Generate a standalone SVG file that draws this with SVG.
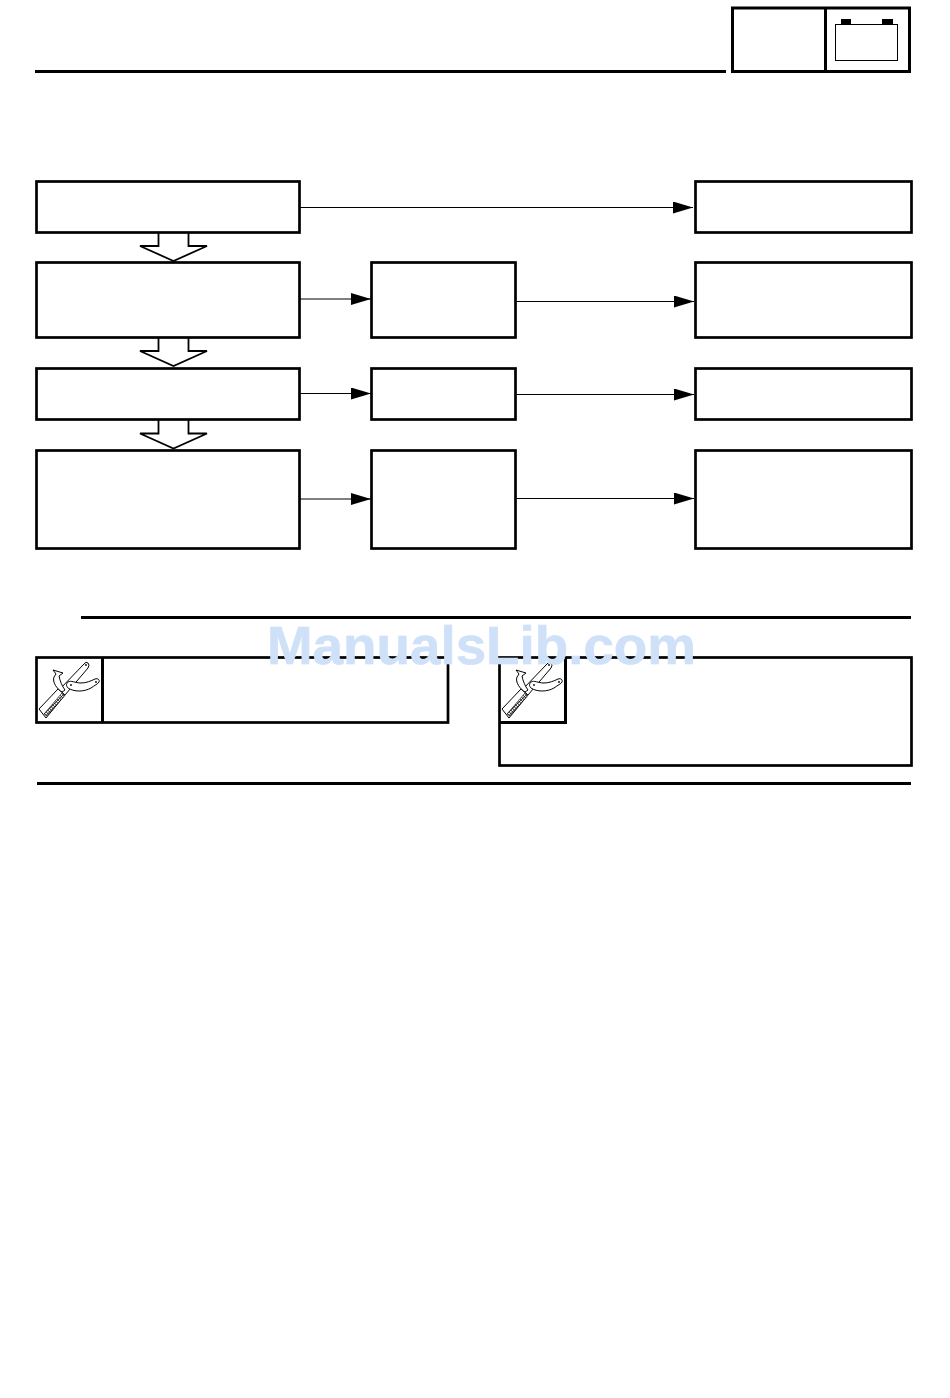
<svg xmlns="http://www.w3.org/2000/svg" width="950" height="1398" viewBox="0 0 950 1398">
<style>
.box{fill:#fff;stroke:#000;stroke-width:2.7}
.rule{stroke:#000;stroke-width:3;fill:none}
.conn{stroke:#000;stroke-width:1.2;fill:none}
.big{fill:#fff;stroke:#000;stroke-width:1.8;stroke-linejoin:miter}
.tl{fill:#fff;stroke:#000;stroke-width:1}
.wm{font-family:"Liberation Sans",Arial,sans-serif;font-weight:700;font-size:54px;fill:#cfe0f9;stroke:#cfe0f9;stroke-width:0.6}
</style>
<defs>
<marker id="ah" markerUnits="userSpaceOnUse" markerWidth="21" markerHeight="12" refX="20" refY="6" orient="auto"><path d="M0 0L20 6L0 12Z" fill="#000"/></marker>
<pattern id="hatch" width="2.4" height="2.4" patternUnits="userSpaceOnUse" patternTransform="rotate(45)"><rect width="2.4" height="2.4" fill="#fff"/><path d="M0 0H2.400M0 0V2.400" stroke="#000" stroke-width="1.2"/></pattern>
<g id="tool">
<path class="tl" d="M23 33L48 7Q50 4 52 6Q54 8 52 11L29 38Z"/>
<circle cx="50" cy="8" r="0.9" fill="#000"/>
<path class="tl" d="M3 52L22 32L29 38L10 61Z"/>
<path d="M8 57L26 36L29 38L11 59Z" fill="url(#hatch)" stroke="#000" stroke-width="0.6"/>
<path class="tl" d="M17 13L27 16L23 19C24 24 26 29 29 33L26 35C21 32 16 25 18 20L20 17Z"/>
<path class="tl" d="M32 25C35 23 39 26 45 26C50 26 55 24 59 22C62 21 64 23 63 25C62 27 59 28 55 31C48 35 38 35 32 31C30 29 30 27 32 25Z"/>
<circle cx="35" cy="28" r="0.9" fill="#000"/><circle cx="60" cy="25" r="0.9" fill="#000"/>
</g>
</defs>
<rect width="950" height="1398" fill="#fff"/>
<g id="header">
<path class="rule" d="M35 71.500H726"/>
<rect x="732.500" y="8" width="177" height="63.500" fill="#fff" stroke="#000" stroke-width="3"/>
<path class="rule" d="M825.500 8V71"/>
<g id="battery">
<rect x="835.500" y="24.500" width="62" height="36" fill="#fff" stroke="#000" stroke-width="1"/>
<rect x="841" y="19" width="10" height="5"/><rect x="882" y="19" width="11" height="5"/>
</g>
</g>
<g id="connectors">
<path class="conn" marker-end="url(#ah)" d="M300 207.500H693"/>
<path class="conn" marker-end="url(#ah)" d="M300 299H371"/>
<path class="conn" marker-end="url(#ah)" d="M516 301.500H694"/>
<path class="conn" marker-end="url(#ah)" d="M300 393.500H371"/>
<path class="conn" marker-end="url(#ah)" d="M516 394.500H694"/>
<path class="conn" marker-end="url(#ah)" d="M300 499H371"/>
<path class="conn" marker-end="url(#ah)" d="M516 498.500H694"/>
<path class="big" d="M158.500 233V246H140L173.500 261L207 246H188.500V233"/>
<path class="big" d="M158.500 338V351H140L173.500 366L207 351H188.500V338"/>
<path class="big" d="M158.500 420V433.500H140L173.500 448.500L207 433.500H188.500V420"/>
</g>
<g id="n1"><rect class="box" x="36.500" y="181.500" width="263" height="51"/></g>
<g id="n2"><rect class="box" x="695.500" y="181.500" width="216" height="51"/></g>
<g id="n3"><rect class="box" x="36.500" y="262.500" width="263" height="75"/></g>
<g id="n4"><rect class="box" x="371.500" y="262.500" width="144" height="75"/></g>
<g id="n5"><rect class="box" x="695.500" y="262.500" width="216" height="75"/></g>
<g id="n6"><rect class="box" x="36.500" y="368.500" width="263" height="51"/></g>
<g id="n7"><rect class="box" x="371.500" y="368.500" width="144" height="51"/></g>
<g id="n8"><rect class="box" x="695.500" y="368.500" width="216" height="51"/></g>
<g id="n9"><rect class="box" x="36.500" y="450.500" width="263" height="98"/></g>
<g id="n10"><rect class="box" x="371.500" y="450.500" width="144" height="98"/></g>
<g id="n11"><rect class="box" x="695.500" y="450.500" width="216" height="98"/></g>
<path class="rule" d="M81 617.500H911"/>
<g id="note-left">
<rect class="box" x="36.500" y="657.500" width="411.500" height="65"/>
<path class="rule" d="M102.500 657V722"/>
<use href="#tool" x="36" y="657"/>
</g>
<g id="note-right">
<rect class="box" x="499.500" y="657.500" width="412" height="108"/>
<path class="rule" d="M499.500 722.500H565.500V657"/>
<use href="#tool" x="499" y="657"/>
</g>
<path class="rule" d="M37 783.500H911"/>
<text class="wm" x="267" y="664" textLength="429" lengthAdjust="spacingAndGlyphs">ManualsLib.com</text>
</svg>
